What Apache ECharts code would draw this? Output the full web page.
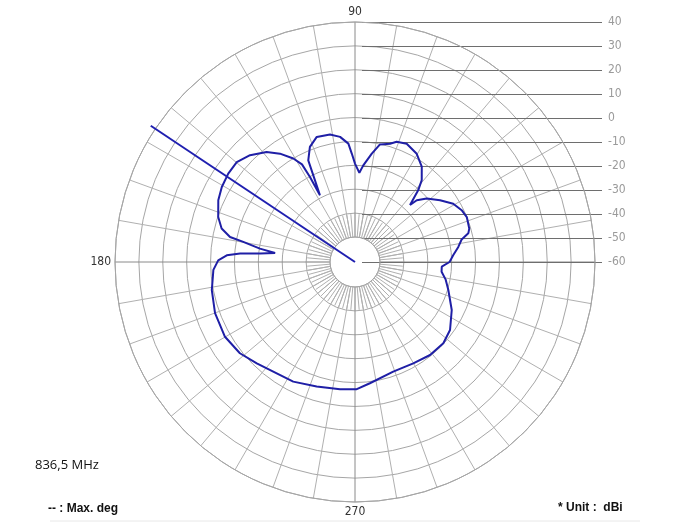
<!DOCTYPE html>
<html>
<head>
<meta charset="utf-8">
<script src="https://cdn.jsdelivr.net/npm/echarts@6/dist/echarts.min.js"></script>
<style>
  html, body { margin: 0; padding: 0; background: #fff; }
  #pattern { width: 700px; height: 530px; }
</style>
</head>
<body>
<div id="pattern"></div>
<script>
// measured radiation pattern, 836,5 MHz (angle in deg, gain in dBi)
var angles = [0, 3.9, 8.3, 11.9, 14.2, 16.3, 21.9, 25.9, 30.7, 36, 41.5, 45, 46, 48.6, 50.8, 55,
    60.3, 66.4, 70.9, 73.5, 78, 81.2, 85.1, 87.2, 90, 91.7, 93.2, 96.8, 101.1, 107, 111.4,
    114.7, 116.1, 117.7, 117.9, 118.5, 120.8, 124.7, 128.8, 134.5, 139.8, 145.1, 150.6,
    155.7, 161.8, 165.9, 168.7, 169.8, 172, 173.6, 174.9, 175.8, 177, 179.3, 183.2, 191.1,
    200.1, 209.9, 218.4, 225.9, 234.9, 242.7, 252.9, 263.3, 270.8, 277, 289.2, 299.9, 308.9,
    317.4, 324.4, 333.6, 343.3, 349, 353.6, 356.9, 360];
var gains = [-20.6, -19, -16.5, -14.6, -11.3, -10.4, -9.8, -10.6, -12.4, -16.2, -20.1, -23.6, -27, -20.2, -16, -11.5,
    -8.1, -6.2, -7, -8.6, -9.9, -14.3, -19.6, -22.8, -19, -14.8, -10.6, -7.5, -5.9, -5.5, -8.5,
    -13.4, -22.1, -28.6, -19.9, -13.7, -9.8, -5.1, -1.2, 2.4, 4.5, 4.4, 3.7,
    2.5, 0, -2.7, -6.9, -12.7, -20, -26.5, -20.3, -12, -6.5, -3, -0.9, 0.8,
    2.1, 2.5, 1.2, -1.2, -3.3, -3.9, -5.7, -6.6, -7, -9.1, -11.6, -11.3, -10.2,
    -10, -11.3, -15, -19.4, -21.5, -23.7, -23.8, -20.6];

// max direction marker
var maxDeg = 146.3;
var maxLine = [-60, 42.3];

// scale
var gainTicks = [-60, -50, -40, -30, -20, -10, 0, 10, 20, 30, 40];
var angleLabels = [90, 180, 270];

var chart = echarts.init(document.getElementById('pattern'));

var cx = 355, cy = 262, R = 240;

var spokeColors = [];
for (var i = 0; i < 36; i++) {
    spokeColors.push(i % 9 === 0 ? '#8a8a8a' : '#b0b0b0');
}

var patternData = angles.map(function (a, i) { return [gains[i], a]; });
var maxData = maxLine.map(function (g) { return [g, maxDeg]; });

var option = {
    animation: false,
    backgroundColor: '#fff',
    polar: [
        { center: [cx, cy], radius: [25, R] },
        { center: [cx, cy], radius: [25, 48] },
        // data polar: -60 at centre, 24 px per 10 dB, room above 40 for the max line
        { center: [cx, cy], radius: [0, R * 1.1] }
    ],
    angleAxis: [
        {
            polarIndex: 0,
            type: 'value',
            min: 0, max: 360, interval: 10,
            startAngle: 0, clockwise: false,
            axisLine: { lineStyle: { color: '#a6a6a6', width: 1 } },
            axisTick: { show: false },
            axisLabel: {
                margin: 4,
                color: '#333',
                fontSize: 12,
                fontFamily: "'Liberation Sans Narrow', 'DejaVu Sans Condensed', sans-serif",
                formatter: function (v) { return angleLabels.indexOf(v) >= 0 ? String(v) : ''; }
            },
            splitLine: { show: true, lineStyle: { color: spokeColors, width: 1 } }
        },
        {
            polarIndex: 1,
            type: 'value',
            min: 0, max: 360, interval: 5,
            startAngle: 0, clockwise: false,
            axisLine: { show: false },
            axisTick: { show: false },
            axisLabel: { show: false },
            splitLine: { show: true, lineStyle: { color: '#b0b0b0', width: 1 } }
        },
        {
            polarIndex: 2,
            type: 'value',
            min: 0, max: 360,
            startAngle: 0, clockwise: false,
            show: false
        }
    ],
    radiusAxis: [
        {
            polarIndex: 0,
            type: 'value',
            min: -50, max: 40, interval: 10,
            axisLine: { show: false },
            axisTick: { show: false },
            axisLabel: { show: false },
            splitLine: { show: true, lineStyle: { color: '#a6a6a6', width: 1 } }
        },
        {
            polarIndex: 1,
            type: 'value',
            min: 0, max: 1,
            axisLine: { show: false },
            axisTick: { show: false },
            axisLabel: { show: false },
            splitLine: { show: false }
        },
        {
            polarIndex: 2,
            type: 'value',
            min: -60, max: 50,
            show: false
        }
    ],
    grid: { left: 362, top: cy - R, width: 240, height: R },
    xAxis: { type: 'value', min: 0, max: 1, show: false },
    yAxis: {
        type: 'value',
        position: 'right',
        min: gainTicks[0], max: gainTicks[gainTicks.length - 1], interval: 10,
        axisLine: { show: false },
        axisTick: { show: false },
        axisLabel: {
            margin: 6,
            color: '#9a9a9a',
            fontSize: 12,
            fontFamily: "'Liberation Sans Narrow', 'DejaVu Sans Condensed', sans-serif"
        },
        splitLine: { lineStyle: { color: '#6e6e6e', width: 1.2 } }
    },
    series: [
        {
            name: 'pattern',
            type: 'line',
            coordinateSystem: 'polar',
            polarIndex: 2,
            data: patternData,
            showSymbol: false,
            clip: false,
            lineStyle: { color: '#1f1fa6', width: 2 },
            z: 5
        },
        {
            name: 'max',
            type: 'line',
            coordinateSystem: 'polar',
            polarIndex: 2,
            data: maxData,
            showSymbol: false,
            clip: false,
            lineStyle: { color: '#1f1fb0', width: 2 },
            z: 5
        }
    ],
    graphic: [
        {
            type: 'text', left: 35, top: 459,
            style: { text: '836,5 MHz', fill: '#111', font: "13px 'Open Sans', sans-serif" }
        },
        {
            type: 'text', left: 48, top: 503,
            style: { text: '-- : Max. deg', fill: '#111', font: "bold 12px 'Liberation Sans', Arial, sans-serif" }
        },
        {
            type: 'text', left: 558, top: 502,
            style: { text: '* Unit :  dBi', fill: '#111', font: "bold 12px 'Liberation Sans', Arial, sans-serif" }
        },
        {
            type: 'line',
            shape: { x1: 50, y1: 521, x2: 640, y2: 521 },
            style: { stroke: '#e8e8e8', lineWidth: 1 }
        }
    ]
};

chart.setOption(option);
</script>
</body>
</html>
